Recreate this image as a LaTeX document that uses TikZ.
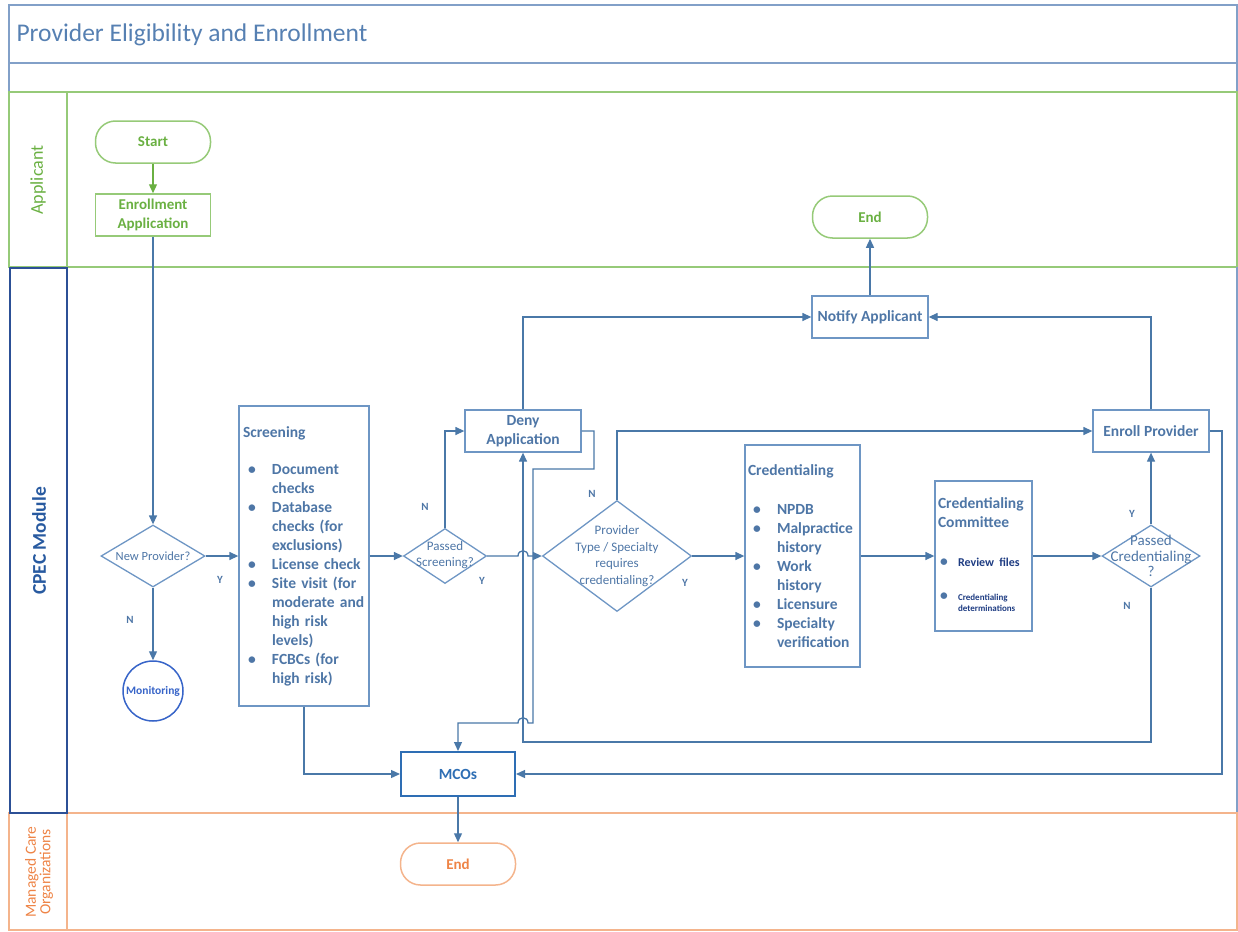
\documentclass[tikz,border=0pt]{standalone}
\usepackage{fontspec}
\setmainfont{Carlito}
\usepackage{tikz}
\usetikzlibrary{shapes,shapes.geometric,arrows.meta}

\definecolor{edgeblue}{RGB}{74,120,168}
\definecolor{boxblue}{RGB}{110,150,196}
\definecolor{txtblue}{RGB}{78,118,166}
\definecolor{titleblue}{RGB}{86,128,178}
\definecolor{frameblue}{RGB}{130,160,200}
\definecolor{lanegreen}{RGB}{150,202,120}
\definecolor{txtgreen}{RGB}{106,176,66}
\definecolor{laneorange}{RGB}{244,180,140}
\definecolor{txtorange}{RGB}{238,132,70}
\definecolor{lanenavy}{RGB}{44,80,150}
\definecolor{cpectxt}{RGB}{40,90,160}
\definecolor{mcoblue}{RGB}{46,110,180}
\definecolor{monblue}{RGB}{55,100,200}
\definecolor{reviewnavy}{RGB}{30,60,130}

\newcommand{\bl}{\makebox[29pt][l]{\hspace{5pt}\textbullet}}
\newcommand{\ct}{\hspace*{29pt}}

\begin{document}
\begin{tikzpicture}[x=1pt,y=-1pt,
  term/.style={draw=lanegreen,line width=1.5pt,rounded corners=20pt,minimum width=115pt,minimum height=42pt,align=center,inner sep=2pt,text=txtgreen,font=\fontsize{15}{19}\selectfont\bfseries},
  proc/.style={draw=boxblue,line width=1.3pt,minimum width=116pt,minimum height=42pt,align=center,text=txtblue,font=\fontsize{15.5}{19}\selectfont\bfseries,inner sep=2pt},
  listbox/.style={draw=boxblue,line width=1.3pt,align=left,text=txtblue,font=\fontsize{15.5}{19}\selectfont\bfseries,inner sep=0pt},
  decide/.style={draw=boxblue,line width=1.3pt,shape=diamond,inner sep=0pt},
  dtext/.style={align=center,text=txtblue,font=\fontsize{13}{16}\selectfont,inner sep=0pt},
  yn/.style={text=txtblue,font=\fontsize{11}{12}\selectfont\bfseries},
  flow/.style={color=edgeblue,line width=1.3pt,-{Triangle[length=9pt,width=8pt]}},
  link/.style={color=edgeblue,line width=1.3pt}]

\useasboundingbox (0,0) rectangle (1238,931);

%swim lanes
\draw[frameblue,line width=1.5pt] (9,5) rectangle (1237,92) (9,63) -- (1237,63);
\draw[lanegreen,line width=1.5pt] (9,92) rectangle (1237,267) (67,92) -- (67,267);
\draw[frameblue,line width=1.5pt] (1237,267) -- (1237,813);
\draw[laneorange,line width=1.5pt] (9,813) rectangle (1237,930) (67,813) -- (67,930);
\draw[lanenavy,line width=2pt] (10,268) rectangle (67,813);

\node[anchor=west,text=titleblue,font=\fontsize{25.5}{28}\selectfont] (title) at (13,35) {Provider Eligibility and Enrollment};
\node[rotate=90,text=txtgreen,font=\fontsize{18}{20}\selectfont] (lab-app) at (38,180) {Applicant};
\node[rotate=90,text=cpectxt,font=\fontsize{19.5}{20}\selectfont\bfseries] (lab-cpec) at (39,541) {CPEC Module};
\node[rotate=90,text=txtorange,align=center,font=\fontsize{15.5}{14.5}\selectfont] (lab-mco) at (39,872) {Managed Care\\Organizations};

%applicant
\node[term] (start) at (153,142) {Start};
\node[term,rounded corners=0pt] (enrollapp) at (153,215) {Enrollment\\Application};
\node[term] (endtop) at (870,217) {End};

%cpec module
\node[proc] (notify) at (870,317) {Notify Applicant};
\node[proc] (deny) at (523,431) {Deny\\Application};
\node[proc] (enrollprov) at (1151,431) {Enroll Provider};

\node[decide,minimum width=104pt,minimum height=62pt] (newprov) at (153,556) {};
\node[dtext,font=\fontsize{12.5}{14}\selectfont] (newprov-t) at (newprov) {New Provider?};

\node[draw=monblue,line width=1.5pt,circle,minimum size=60pt,inner sep=0pt,text=monblue,font=\fontsize{11.5}{13}\selectfont\bfseries] (monitor) at (153,691) {Monitoring};

\node[listbox,minimum width=130pt,minimum height=300pt,text width=122pt] (screen) at (304,556) {%
Screening\\[18pt]
\bl Document\\ \ct checks\\ \bl Database\\ \ct checks (for\\ \ct exclusions)\\ \bl License check\\
\bl Site visit (for\\ \ct moderate and\\ \ct high risk\\ \ct levels)\\ \bl FCBCs (for\\ \ct high risk)};

\node[decide,minimum width=83pt,minimum height=55pt] (passscr) at (445,556) {};
\node[dtext] (passscr-t) at (445,555) {Passed\\Screening?};

\node[decide,minimum width=149pt,minimum height=111pt] (ptype) at (617,556) {};
\node[dtext,font=\fontsize{13}{16.5}\selectfont] (ptype-t) at (617,556) {Provider\\Type / Specialty\\requires\\credentialing?};

\node[listbox,minimum width=115pt,minimum height=222pt,text width=109pt] (cred) at (802.5,556) {%
Credentialing\\[20pt]
\bl NPDB\\ \bl Malpractice\\ \ct history\\ \bl Work\\ \ct history\\ \bl Licensure\\ \bl Specialty\\ \ct verification};

\node[listbox,minimum width=97pt,minimum height=150pt,text width=91pt] (commit) at (983.5,556) {%
Credentialing\\Committee\\[20pt]
\makebox[20pt][l]{\hspace{2pt}\textbullet}{\fontsize{12}{14}\selectfont\color{reviewnavy}Review files}\\[15pt]
\makebox[20pt][l]{\hspace{2pt}\textbullet}{\fontsize{9}{11}\selectfont\color{reviewnavy}\begin{tabular}[t]{@{}l@{}}Credentialing\\determinations\end{tabular}}};

\node[decide,minimum width=98pt,minimum height=62pt] (passcred) at (1151,556) {};
\node[dtext,font=\fontsize{15}{15.5}\selectfont] (passcred-t) at (1151,556) {Passed\\Credentialing\\?};

\node[draw=mcoblue,line width=2pt,minimum width=114pt,minimum height=44pt,text=mcoblue,font=\fontsize{15.5}{19}\selectfont\bfseries] (mcos) at (458,774) {MCOs};

%managed care organizations
\node[term,draw=laneorange,text=txtorange] (endbot) at (458,864) {End};

%connectors
\draw[flow,color=txtgreen] (start) -- (enrollapp);
\draw[flow] (enrollapp.south) -- (newprov.north);
\draw[flow] (newprov.east) -- (screen.west);
\draw[flow] (newprov.south) -- (monitor.north);
\draw[flow] (screen.east) -- (passscr.west);
\draw[flow] (passscr.north) |- (deny.west);
\draw[flow] (passscr.east) -- (518,556) .. controls (518,549) and (528,549) .. (528,556) -- (ptype.west);
\draw[flow] (ptype.north) |- (enrollprov.west);
\draw[flow] (ptype.east) -- (cred.west);
\draw[flow] (cred.east) -- (commit.west);
\draw[flow] (commit.east) -- (passcred.west);
\draw[flow] (passcred.north) -- (enrollprov.south);
\draw[flow] (passcred.south) -- (1151,742) -- (523,742) -- (deny.south);
\draw[flow] (deny.east) -- (594,431) -- (594,469) -- (533,469) -- (533,723) -- (528,723)
  .. controls (528,716) and (518,716) .. (518,723) -- (458,723) -- (mcos.north);
\draw[flow] (deny.north) |- (notify.west);
\draw[flow] (enrollprov.north) |- (notify.east);
\draw[flow] (notify.north) -- (endtop.south);
\draw[flow] (enrollprov.east) -- (1222,431) |- (mcos.east);
\draw[flow] (screen.south) |- (mcos.west);
\draw[flow] (mcos.south) -- (endbot.north);

%decision labels
\node[yn] (ny) at (220,580) {Y};
\node[yn] (nn) at (130,620) {N};
\node[yn] (sn) at (425,507) {N};
\node[yn] (sy) at (482,581) {Y};
\node[yn] (pn) at (592,494) {N};
\node[yn] (py) at (685,583) {Y};
\node[yn] (cy) at (1132,514) {Y};
\node[yn] (cn) at (1127,606) {N};

\end{tikzpicture}
\end{document}
